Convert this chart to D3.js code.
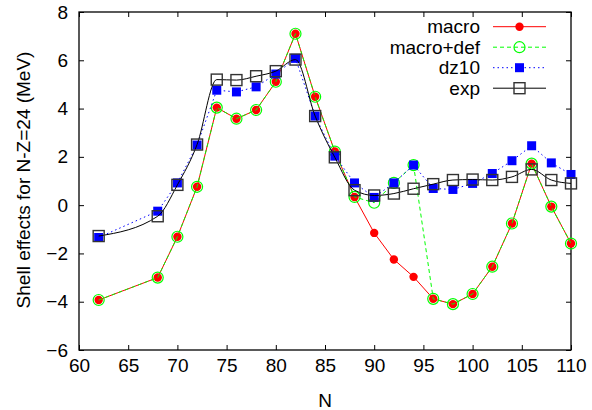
<!DOCTYPE html>
<html lang="en">
<head>
<meta charset="UTF-8">
<title>Shell effects</title>
<script src="https://d3js.org/d3.v7.min.js"></script>
<style>
  body { margin: 0; background: #fff; }
  svg { font-family: "Liberation Sans", Arial, sans-serif; }
</style>
</head>
<body>
<svg width="592" height="410"></svg>
<script>
// values
let N        = [62, 68, 70, 72, 74, 76, 78, 80, 82, 84, 86, 88, 90, 92, 94, 96, 98, 100, 102, 104, 106, 108, 110];
let macro    = [-3.93, -3.0, -1.31, 0.76, 4.04, 3.58, 3.94, 5.11, 7.1, 4.49, 2.22, 0.34, -1.15, -2.25, -2.97, -3.88, -4.1, -3.68, -2.55, -0.76, 1.72, -0.06, -1.59];
let macroDef = [-3.93, -3.0, -1.31, 0.76, 4.04, 3.58, 3.94, 5.11, 7.1, 4.49, 2.22, 0.34, 0.1, 0.92, 1.66, -3.88, -4.1, -3.68, -2.55, -0.76, 1.72, -0.06, -1.59];
let dz10     = [-1.34, -0.25, 0.92, 2.49, 4.76, 4.69, 4.9, 5.43, 6.08, 3.69, 2.03, 0.92, 0.32, 0.92, 1.66, 0.69, 0.65, 0.9, 1.31, 1.84, 2.46, 1.75, 1.27];
let expt     = [-1.28, -0.46, 0.84, 2.51, 5.2, 5.18, 5.34, 5.55, 6.03, 3.69, 1.98, 0.62, 0.4, 0.48, 0.68, 0.87, 1.04, 1.06, 1.04, 1.17, 1.48, 1.04, 0.9];
let xTicks = [60, 65, 70, 75, 80, 85, 90, 95, 100, 105, 110];
let yTicks = [-6, -4, -2, 0, 2, 4, 6, 8];

let pL = 79, pR = 571, pT = 12, pB = 350;
let svg = d3.select("svg");
let fs = 19;

let x = d3.scaleLinear().domain([60, 110]).range([pL, pR]);
let y = d3.scaleLinear().domain([-6, 8]).range([pB, pT]);

// axes, gnuplot style: inward ticks mirrored on all sides
svg.append("g").attr("transform", "translate(0," + pB + ")")
    .call(d3.axisBottom(x).tickValues(xTicks).tickSize(-5).tickPadding(9));
svg.append("g").attr("transform", "translate(0," + pT + ")")
    .call(d3.axisTop(x).tickValues(xTicks).tickSize(-5).tickFormat(""));
svg.append("g").attr("transform", "translate(" + pL + ",0)")
    .call(d3.axisLeft(y).tickValues(yTicks).tickSize(-5).tickPadding(11));
svg.append("g").attr("transform", "translate(" + pR + ",0)")
    .call(d3.axisRight(y).tickValues(yTicks).tickSize(-5).tickFormat(""));
svg.selectAll(".domain").remove();
svg.selectAll(".tick line").attr("stroke", "#000");
svg.selectAll(".tick text").attr("font-size", fs).attr("fill", "#000")
    .attr("font-family", "Liberation Sans, Arial, sans-serif");

svg.append("rect")
    .attr("x", pL).attr("y", pT)
    .attr("width", pR - pL).attr("height", pB - pT)
    .attr("fill", "none").attr("stroke", "#000").attr("stroke-width", 1.3);

svg.append("text").attr("x", 325).attr("y", 407)
    .attr("text-anchor", "middle").attr("font-size", fs).text("N");
svg.append("text")
    .attr("transform", "translate(30,180) rotate(-90)")
    .attr("text-anchor", "middle").attr("font-size", fs)
    .text("Shell effects for N-Z=24 (MeV)");

let series = [
    { name: "macro", vals: macro, color: "#ff0000", dash: null, mark: "dot", curve: d3.curveLinear },
    { name: "macro+def", vals: macroDef, color: "#00ff00", dash: "4,3", mark: "ring", curve: d3.curveLinear },
    { name: "dz10", vals: dz10, color: "#0000ff", dash: "1.5,3", mark: "fsq", curve: d3.curveLinear },
    { name: "exp", vals: expt, color: "#000000", dash: null, mark: "osq", curve: d3.curveMonotoneX }
];

function drawMark(g, kind, cx, cy) {
    if (kind == "dot") {
        g.append("circle").attr("cx", cx).attr("cy", cy).attr("r", 4.2).attr("fill", "#ff0000");
    } else if (kind == "ring") {
        g.append("circle").attr("cx", cx).attr("cy", cy).attr("r", 5.5)
            .attr("fill", "none").attr("stroke", "#00ff00").attr("stroke-width", 1.2);
    } else if (kind == "fsq") {
        g.append("rect").attr("x", cx - 4.5).attr("y", cy - 4.5).attr("width", 9).attr("height", 9)
            .attr("fill", "#0000ff");
    } else {
        g.append("rect").attr("x", cx - 5.5).attr("y", cy - 5.5).attr("width", 11).attr("height", 11)
            .attr("fill", "none").attr("stroke", "#333").attr("stroke-width", 1.4);
    }
}

series.forEach(function(s, i) {
    let g = svg.append("g");
    let line = d3.line().x((d, j) => x(N[j])).y(d => y(d)).curve(s.curve);
    g.append("path").datum(s.vals)
        .attr("d", line)
        .attr("fill", "none")
        .attr("stroke", s.color)
        .attr("stroke-width", 1)
        .attr("stroke-dasharray", s.dash);
    s.vals.forEach((v, j) => drawMark(g, s.mark, x(N[j]), y(v)));

    // legend entry
    let ly = 26.7 + i * 20.5;
    svg.append("text").attr("x", 480).attr("y", ly).attr("dy", "0.35em")
        .attr("text-anchor", "end").attr("font-size", fs).text(s.name);
    svg.append("line").attr("x1", 493).attr("x2", 546).attr("y1", ly).attr("y2", ly)
        .attr("stroke", s.color).attr("stroke-width", 1).attr("stroke-dasharray", s.dash);
    drawMark(svg, s.mark, 519.5, ly);
});
</script>
</body>
</html>
